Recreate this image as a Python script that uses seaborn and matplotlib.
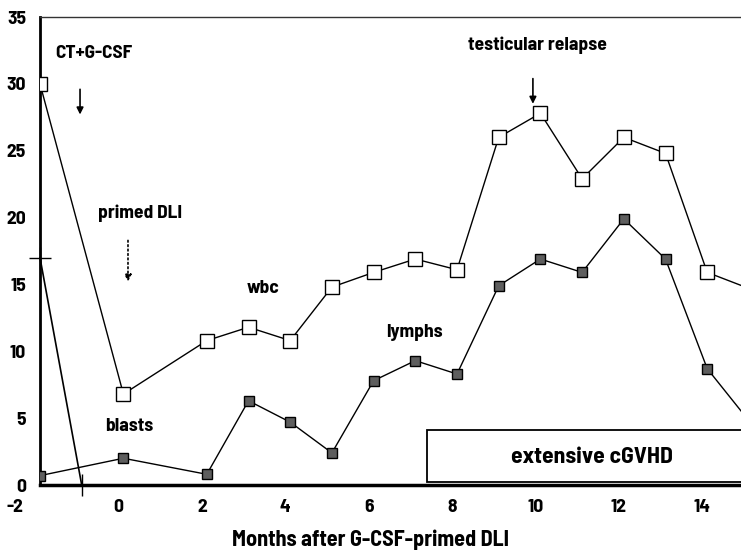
import matplotlib
matplotlib.use('Agg')
import matplotlib.pyplot as plt
import matplotlib.transforms as mtransforms
from matplotlib.patches import Rectangle
import seaborn as sns

# data
months = [-2, 0, 2, 3, 4, 5, 6, 7, 8, 9, 10, 11, 12, 13, 14, 15]
wbc = [30.0, 6.8, 10.8, 11.8, 10.8, 14.8, 15.9, 16.9, 16.1, 26.0, 27.8, 22.9, 26.0, 24.8, 15.9, 14.7]
lymphs = [0.7, 2.0, 0.8, 6.3, 4.7, 2.4, 7.8, 9.3, 8.3, 14.9, 16.9, 15.9, 19.9, 16.9, 8.7, 4.8]
blast_months = [-2, -1]
blasts = [17, 0]
xticks = [-2, 0, 2, 4, 6, 8, 10, 12, 14]
yticks = [0, 5, 10, 15, 20, 25, 30, 35]

sns.set_style('white')
plt.rcParams['font.family'] = ['Barlow Semi Condensed', 'DejaVu Sans']
plt.rcParams['font.weight'] = 700
plt.rcParams['text.color'] = 'black'
plt.rcParams['xtick.color'] = 'black'
plt.rcParams['ytick.color'] = 'black'
plt.rcParams['axes.labelcolor'] = 'black'

fig = plt.figure(figsize=(7.41, 5.54), dpi=100)
ax = fig.add_axes([40 / 741, 1 - 485 / 554, 701 / 741, 468 / 554])

sns.lineplot(x=months, y=wbc, ax=ax, color='black', lw=1.0, marker='s', markersize=10,
             markerfacecolor='white', markeredgecolor='black', markeredgewidth=1.0, zorder=3)
sns.lineplot(x=months, y=lymphs, ax=ax, color='black', lw=1.0, marker='s', markersize=7,
             markerfacecolor='#5e5e5e', markeredgecolor='black', markeredgewidth=1.0, zorder=3)
sns.lineplot(x=blast_months, y=blasts, ax=ax, color='black', lw=1.2, marker='+', markersize=16,
             markeredgecolor='black', markeredgewidth=1.0, clip_on=False, zorder=4)

ax.set_xlim(-2, 14.81)
ax.set_ylim(0, 35)
ax.set_xticks(xticks)
ax.set_xticklabels([str(t) for t in xticks])
ax.set_yticks(yticks)
ax.tick_params(axis='both', length=0, labelsize=14)
ax.tick_params(axis='x', pad=10)
ax.tick_params(axis='y', pad=10)

# shift x tick labels a little left like in the original
for i, lab in enumerate(ax.get_xticklabels()):
    dx = -25 if i == 0 else -5
    off = mtransforms.ScaledTranslation(dx / 100, 0, fig.dpi_scale_trans)
    lab.set_transform(lab.get_transform() + off)

ax.spines['right'].set_visible(False)
ax.spines['top'].set_linewidth(1.0)
ax.spines['top'].set_color('#333333')
ax.spines['left'].set_linewidth(2.0)
ax.spines['left'].set_color('black')
ax.spines['bottom'].set_linewidth(2.5)
ax.spines['bottom'].set_color('black')

ax.set_xlabel('Months after G-CSF-primed DLI', fontsize=16, fontweight=700)
ax.xaxis.set_label_coords(331 / 701, -0.096)
ax.set_ylabel('')

# annotations
fs = 14
ax.text(-1.64, 32.3, 'CT+G-CSF', fontsize=fs, ha='left', va='center')
ax.annotate('', xy=(-1.04, 27.5), xytext=(-1.04, 29.8),
            arrowprops=dict(arrowstyle='-|>', color='black', lw=1.2, mutation_scale=10))
ax.text(-0.61, 20.3, 'primed DLI', fontsize=fs, ha='left', va='center')
ax.annotate('', xy=(0.11, 15.0), xytext=(0.11, 18.5),
            arrowprops=dict(arrowstyle='-|>', color='black', lw=1.2, ls=':', mutation_scale=10))
ax.text(3.35, 14.7, 'wbc', fontsize=fs, ha='center', va='center')
ax.text(6.97, 11.4, 'lymphs', fontsize=fs, ha='center', va='center')
ax.text(0.13, 4.4, 'blasts', fontsize=fs, ha='center', va='center')
ax.text(9.94, 32.9, 'testicular relapse', fontsize=fs, ha='center', va='center')
ax.annotate('', xy=(9.82, 28.3), xytext=(9.82, 30.6),
            arrowprops=dict(arrowstyle='-|>', color='black', lw=1.2, mutation_scale=10))

ax.add_patch(Rectangle((7.28, 0.22), 9.0, 3.89, facecolor='white', edgecolor='black',
                       lw=1.3, zorder=2))
ax.text(11.24, 2.1, 'extensive cGVHD', fontsize=17, ha='center', va='center')

fig.savefig('out.png', dpi=100)
